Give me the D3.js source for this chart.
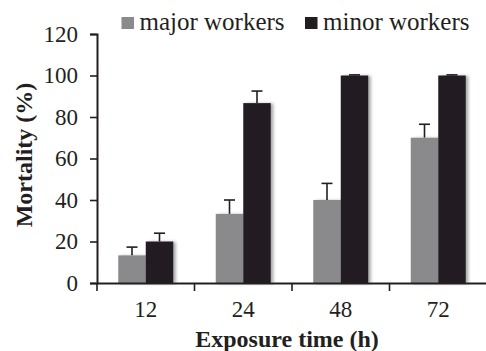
<!DOCTYPE html>
<html>
<head>
<meta charset="utf-8">
<script src="https://cdn.jsdelivr.net/npm/d3@7"></script>
<style>
  body { margin: 0; background: #fff; }
  svg text { font-family: "Liberation Serif", "DejaVu Serif", serif; fill: #231f20; }
</style>
</head>
<body>
<div id="chart"></div>
<script>
// data
const hours = ["12", "24", "48", "72"];
const series = ["major workers", "minor workers"];
const majorMean = [13.3, 33.3, 40, 70];
const majorErr = [4, 6.7, 8, 6.5];
const minorMean = [20, 86.7, 100, 100];
const minorErr = [4, 5.8, 0.3, 0.3];
const yTicks = [0, 20, 40, 60, 80, 100, 120];
const colors = ["#8a8a8d", "#231f20"];

const W = 486, H = 351;
const margin = { top: 34, right: 0, bottom: 68, left: 97 };

const svg = d3.select("#chart").append("svg")
  .attr("width", W).attr("height", H);

const defs = svg.append("defs");
const f = defs.append("filter").attr("id", "shadow")
  .attr("x", "-30%").attr("y", "-10%").attr("width", "160%").attr("height", "120%");
f.append("feDropShadow").attr("dx", 2.5).attr("dy", 0.5)
  .attr("stdDeviation", 1.6).attr("flood-color", "#000").attr("flood-opacity", 0.35);

const x = d3.scaleBand().domain(hours)
  .range([margin.left, 487]).paddingInner(0).paddingOuter(0);
const xSub = d3.scaleBand().domain(series)
  .range([0, 55]);
const y = d3.scaleLinear().domain([0, 120]).range([283, 34]);

const groups = [
  { name: series[0], mean: majorMean, err: majorErr, color: colors[0] },
  { name: series[1], mean: minorMean, err: minorErr, color: colors[1] }
];

const barOff = (x.bandwidth() - 55) / 2;

// error bars first (behind bars)
groups.forEach(g => {
  hours.forEach((h, i) => {
    const cx = x(h) + barOff + xSub(g.name) + xSub.bandwidth() / 2;
    const top = y(g.mean[i] + g.err[i]);
    svg.append("line")
      .attr("x1", cx).attr("x2", cx)
      .attr("y1", y(g.mean[i])).attr("y2", top)
      .attr("stroke", "#231f20").attr("stroke-width", 1.6);
    svg.append("line")
      .attr("x1", cx - 5.5).attr("x2", cx + 5.5)
      .attr("y1", top).attr("y2", top)
      .attr("stroke", "#231f20").attr("stroke-width", 1.6);
  });
});

// bars
groups.forEach(g => {
  svg.append("g").selectAll("rect")
    .data(hours)
    .join("rect")
    .attr("x", h => x(h) + barOff + xSub(g.name))
    .attr("width", xSub.bandwidth())
    .attr("y", (h, i) => y(g.mean[i]))
    .attr("height", (h, i) => y(0) - y(g.mean[i]))
    .attr("fill", g.color)
    .attr("filter", "url(#shadow)");
});

// y axis
const yAxis = svg.append("g")
  .attr("transform", `translate(${margin.left},0)`)
  .call(d3.axisLeft(y).tickValues(yTicks).tickSize(7).tickPadding(12));
yAxis.select(".domain").attr("stroke", "#231f20").attr("stroke-width", 2);
yAxis.selectAll(".tick line").attr("stroke", "#231f20").attr("stroke-width", 1.6);
yAxis.selectAll(".tick text").attr("font-size", "23px")
  .attr("font-family", "Liberation Serif").attr("fill", "#231f20");

// x axis
const xAxis = svg.append("g")
  .attr("transform", `translate(0,${y(0)})`)
  .call(d3.axisBottom(x).tickSize(0).tickPadding(18));
xAxis.select(".domain").attr("stroke", "#231f20").attr("stroke-width", 2);
xAxis.selectAll(".tick text").attr("font-size", "23px")
  .attr("font-family", "Liberation Serif").attr("fill", "#231f20");
// boundary ticks between categories
xAxis.selectAll(".bound")
  .data(hours)
  .join("line")
  .attr("x1", h => x(h)).attr("x2", h => x(h))
  .attr("y1", 0).attr("y2", 8)
  .attr("stroke", "#231f20").attr("stroke-width", 1.6);

// axis titles
svg.append("text")
  .attr("transform", `translate(32,155) rotate(-90)`)
  .attr("text-anchor", "middle")
  .attr("font-size", "24px").attr("font-weight", "bold")
  .text("Mortality (%)");

svg.append("text")
  .attr("x", 287).attr("y", 347)
  .attr("text-anchor", "middle")
  .attr("font-size", "24px").attr("font-weight", "bold")
  .text("Exposure time (h)");

// legend
const legendX = [121.5, 305];
groups.forEach((g, i) => {
  svg.append("rect")
    .attr("x", legendX[i]).attr("y", 17)
    .attr("width", 12.5).attr("height", 12)
    .attr("fill", g.color);
  svg.append("text")
    .attr("x", legendX[i] + 18).attr("y", 30)
    .attr("font-size", "25px")
    .text(g.name);
});
</script>
</body>
</html>
